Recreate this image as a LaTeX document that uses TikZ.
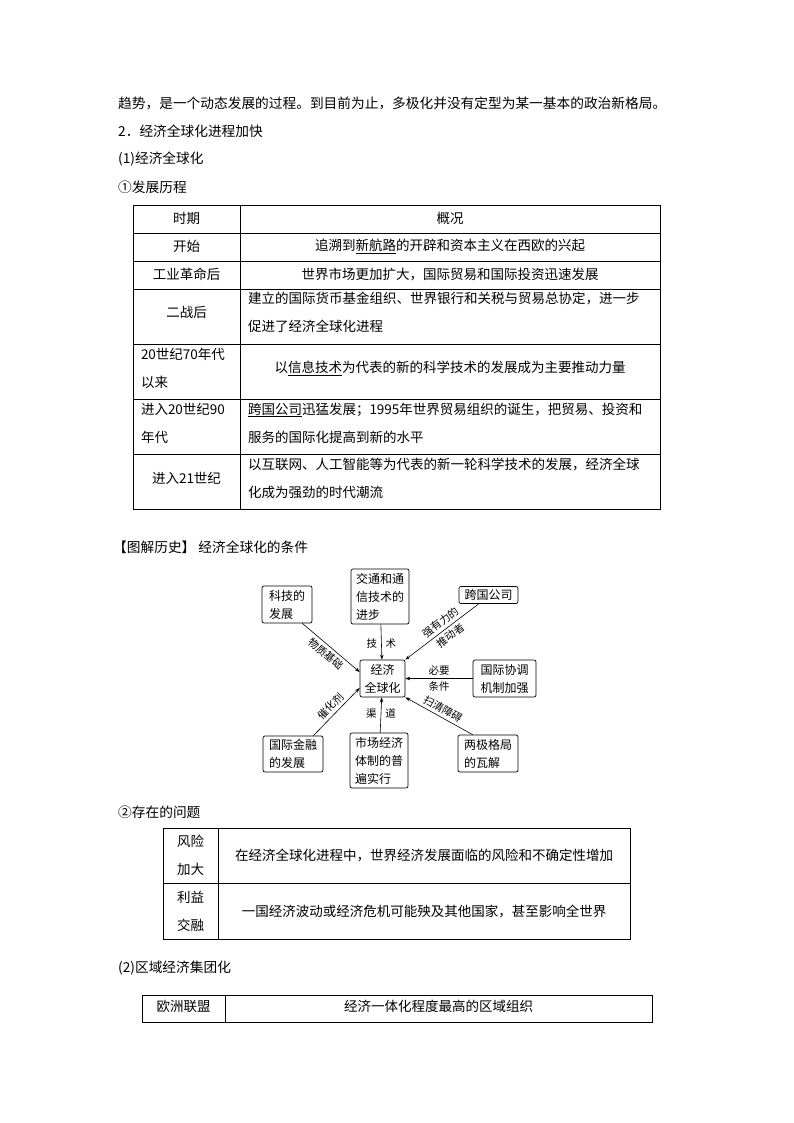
\documentclass[tikz,border=0pt]{standalone}
\usepackage{fontspec}
\setmainfont{Noto Sans CJK SC}
\usetikzlibrary{arrows.meta}
\begin{document}
\begin{tikzpicture}[x=1pt,y=-1pt,
  txt/.style={anchor=west,inner sep=0,font=\fontsize{13.7}{16}\selectfont},
  cell/.style={inner sep=0,font=\fontsize{13.5}{28}\selectfont,align=center},
  lcell/.style={inner sep=0,font=\fontsize{13.5}{28}\selectfont,align=left,text width=#1},
  grid/.style={line width=0.8pt},
  dbox/.style={draw,rounded corners=2pt,inner sep=0,font=\fontsize{12}{18}\selectfont,align=left,line width=0.7pt},
  arr/.style={-{Stealth[length=5pt,width=3.5pt]},line width=0.6pt},
  lab/.style={font=\fontsize{10.5}{12}\selectfont,inner sep=1pt}]
\useasboundingbox (0,0) rectangle (794,1123);
\fill[white] (0,0) rectangle (794,1123);
\node[txt] (t1) at (118,103) {趋势，是一个动态发展的过程。到目前为止，多极化并没有定型为某一基本的政治新格局。};
\node[txt] (t2) at (118,131) {2．经济全球化进程加快};
\node[txt] (t3) at (118,159) {(1)经济全球化};
\node[txt] (t4) at (118,187) {①发展历程};
% table 1
\draw[grid] (133,205) rectangle (660,509);
\draw[grid] (240,205) -- (240,509);
\foreach \y in {233,261,289,344,399,454} \draw[grid] (133,\y) -- (660,\y);
\node[cell] (a0) at (186.5,218) {时期};
\node[cell] (b0) at (450,218) {概况};
\node[cell] (a1) at (186.5,246) {开始};
\node[cell] (b1) at (450,246) {追溯到\underline{新航路}的开辟和资本主义在西欧的兴起};
\node[cell] (a2) at (186.5,274) {工业革命后};
\node[cell] (b2) at (450,274) {世界市场更加扩大，国际贸易和国际投资迅速发展};
\node[cell] (a3) at (186.5,312) {二战后};
\node[lcell=412pt] (b3) at (454,312) {建立的国际货币基金组织、世界银行和关税与贸易总协定，进一步\\促进了经济全球化进程};
\node[lcell=100pt] (a4) at (191,368) {20世纪70年代\\以来};
\node[cell] (b4) at (450,368) {以\underline{信息技术}为代表的新的科学技术的发展成为主要推动力量};
\node[lcell=100pt] (a5) at (191,423) {进入20世纪90\\年代};
\node[lcell=412pt] (b5) at (454,423) {\underline{跨国公司}迅猛发展；1995年世界贸易组织的诞生，把贸易、投资和\\服务的国际化提高到新的水平};
\node[cell] (a6) at (186.5,478) {进入21世纪};
\node[lcell=412pt] (b6) at (454,478) {以互联网、人工智能等为代表的新一轮科学技术的发展，经济全球\\化成为强劲的时代潮流};
\node[txt] (t5) at (113,547) {【图解历史】 经济全球化的条件};
% diagram
\node[dbox,minimum width=45pt,minimum height=37pt,align=center] (c) at (382.5,678.5) {经济\\全球化};
\node[dbox,minimum width=50pt,minimum height=37pt] (n1) at (287,604.5) {科技的\\发展};
\node[dbox,minimum width=58pt,minimum height=55pt] (n2) at (380,596.5) {交通和通\\信技术的\\进步};
\node[dbox,minimum width=59pt,minimum height=17pt] (n3) at (488.5,595) {跨国公司};
\node[dbox,minimum width=63pt,minimum height=37pt] (n4) at (504.5,678.5) {国际协调\\机制加强};
\node[dbox,minimum width=60pt,minimum height=36pt] (n5) at (293,754) {国际金融\\的发展};
\node[dbox,minimum width=58pt,minimum height=55pt] (n6) at (379,760.5) {市场经济\\体制的普\\遍实行};
\node[dbox,minimum width=60pt,minimum height=37pt] (n7) at (488,753.5) {两极格局\\的瓦解};
\draw[arr] (n1.south east) ++(-10,0) coordinate (s1) -- (c.west |- 0,672) node[lab,midway,sloped,below=2pt] {物质基础};
\draw[arr] (n2) -- (c) node[pos=0.55,lab,left=3pt] {技} node[pos=0.55,lab,right=3pt] {术};
\draw[arr] (n3.south west) ++(20,0) coordinate (s3) -- (c.north east) node[lab,pos=0.45,sloped,above=2pt] {强有力的} node[lab,pos=0.45,sloped,below=2pt] {推动者};
\draw[arr] (n4) -- (c) node[lab,midway,above=2pt] {必要} node[lab,midway,below=2pt] {条件};
\draw[arr] (n5.north east) ++(-10,0) coordinate (s5) -- (c.west |- 0,688) node[lab,midway,sloped,above=2pt] {催化剂};
\draw[arr] (n6) -- (c) node[pos=0.55,lab,left=3pt] {渠} node[pos=0.55,lab,right=3pt] {道};
\draw[arr] (n7.north west) ++(15,0) coordinate (s7) -- (c.south east) node[lab,midway,sloped,above=2pt] {扫清障碍};
\node[txt] (t6) at (118,812) {②存在的问题};
% table 2
\draw[grid] (163,828) rectangle (630,939);
\draw[grid] (218,828) -- (218,939);
\draw[grid] (163,883) -- (630,883);
\node[cell] (p1) at (190.5,855.5) {风险\\加大};
\node[cell] (q1) at (424,855.5) {在经济全球化进程中，世界经济发展面临的风险和不确定性增加};
\node[cell] (p2) at (190.5,911) {利益\\交融};
\node[cell] (q2) at (424,911) {一国经济波动或经济危机可能殃及其他国家，甚至影响全世界};
\node[txt] (t7) at (118,968) {(2)区域经济集团化};
% table 3
\draw[grid] (142,995) rectangle (652,1022);
\draw[grid] (225,995) -- (225,1022);
\node[cell] (r1) at (183.5,1006) {欧洲联盟};
\node[cell] (s1x) at (438.5,1006) {经济一体化程度最高的区域组织};
\end{tikzpicture}
\end{document}
